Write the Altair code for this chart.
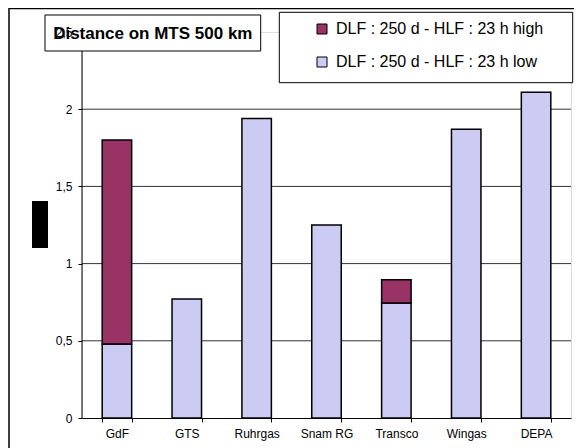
import altair as alt
import pandas as pd

categories = ["GdF", "GTS", "Ruhrgas", "Snam RG", "Transco", "Wingas", "DEPA"]
low_values = [0.48, 0.77, 1.94, 1.25, 0.745, 1.87, 2.11]
high_values = [1.32, 0.0, 0.0, 0.0, 0.15, 0.0, 0.0]
series_names = ["DLF : 250 d - HLF : 23 h high", "DLF : 250 d - HLF : 23 h low"]
series_colors = ["#993366", "#cbcbf3"]
y_ticks = [0, 0.5, 1, 1.5, 2, 2.5]
grid_values = [0.5, 1, 1.5, 2]
chart_title = "Distance on MTS 500 km"

FONT = "Liberation Sans"

rows = []
for c, lo, hi in zip(categories, low_values, high_values):
    rows.append({"cat": c, "series": series_names[1], "value": lo, "ord": 0})
    rows.append({"cat": c, "series": series_names[0], "value": hi, "ord": 1})
df = pd.DataFrame(rows)

W, H = 489, 386
yscale = alt.Scale(domain=[0, 2.5], nice=False, zero=True)
yaxis = alt.Axis(
    title=None, values=y_ticks, grid=False, domain=False, zindex=1,
    tickSize=4, labelPadding=6, labelFontSize=12, labelFont=FONT,
    labelColor="black",
    labelExpr="replace(toString(datum.value), '.', ',')",
    tickColor={"condition": {"test": "datum.value >= 2.5", "value": "transparent"}, "value": "black"},
)

one = pd.DataFrame({"k": [0]})

frame = alt.Chart(one).mark_rect(fill=None, stroke="black", strokeWidth=1.5).encode(
    x=alt.value(-73), x2=alt.value(700), y=alt.value(-23.5), y2=alt.value(600)
)

grid = alt.Chart(pd.DataFrame({"value": grid_values})).mark_rule(
    color="#333333", strokeWidth=1
).encode(y=alt.Y("value:Q", scale=yscale, axis=yaxis))

yline = alt.Chart(one).mark_rule(color="black", strokeWidth=1).encode(
    x=alt.value(0), y=alt.value(0), y2=alt.value(H)
)

bars = alt.Chart(df).transform_filter("datum.value > 0").mark_bar(
    stroke="black", strokeWidth=1.5
).encode(
    x=alt.X(
        "cat:N",
        sort=categories,
        scale=alt.Scale(paddingInner=0.578, paddingOuter=0.289),
        axis=alt.Axis(
            title=None, labelAngle=0, tickBand="extent", tickSize=4,
            labelPadding=6, grid=False, domainColor="black", tickColor="black",
            labelFontSize=12, labelFont=FONT, labelColor="black",
        ),
    ),
    y=alt.Y("value:Q", stack="zero", scale=yscale, axis=yaxis),
    color=alt.Color(
        "series:N",
        scale=alt.Scale(domain=series_names, range=series_colors),
        legend=alt.Legend(
            title=None, orient="none", legendX=232, legendY=-11,
            symbolType="square", symbolSize=100, symbolStrokeColor="black",
            symbolStrokeWidth=1, labelFontSize=16, labelFont=FONT,
            labelOffset=6, rowPadding=17, padding=0, labelLimit=400,
            symbolOpacity=1,
        ),
    ),
    order=alt.Order("ord:Q"),
)

title_box = alt.Chart(one).mark_rect(fill="white", stroke="black", strokeWidth=1).encode(
    x=alt.value(-37), x2=alt.value(178.7), y=alt.value(-17), y2=alt.value(19)
)
title_text = alt.Chart(pd.DataFrame({"t": [chart_title]})).mark_text(
    font=FONT, fontSize=17, fontWeight="bold", color="black",
    align="center", baseline="middle",
).encode(text="t:N", x=alt.value(70.8), y=alt.value(1.5))

legend_box = alt.Chart(one).mark_rect(fill="white", stroke="black", strokeWidth=1).encode(
    x=alt.value(197.3), x2=alt.value(490.7), y=alt.value(-19.7), y2=alt.value(50.7)
)

black_box = alt.Chart(one).mark_rect(fill="black").encode(
    x=alt.value(-50), x2=alt.value(-34), y=alt.value(169), y2=alt.value(216)
)

chart = alt.layer(
    frame, grid, yline, bars, title_box, title_text, legend_box, black_box
).properties(
    width=W, height=H,
    padding={"left": 74, "top": 24, "right": 3, "bottom": 30},
    autosize="none",
).configure_view(
    stroke="#888888", strokeWidth=1
).configure(background="white")

chart.save("out.html", embed_options={"renderer": "svg", "actions": False})
